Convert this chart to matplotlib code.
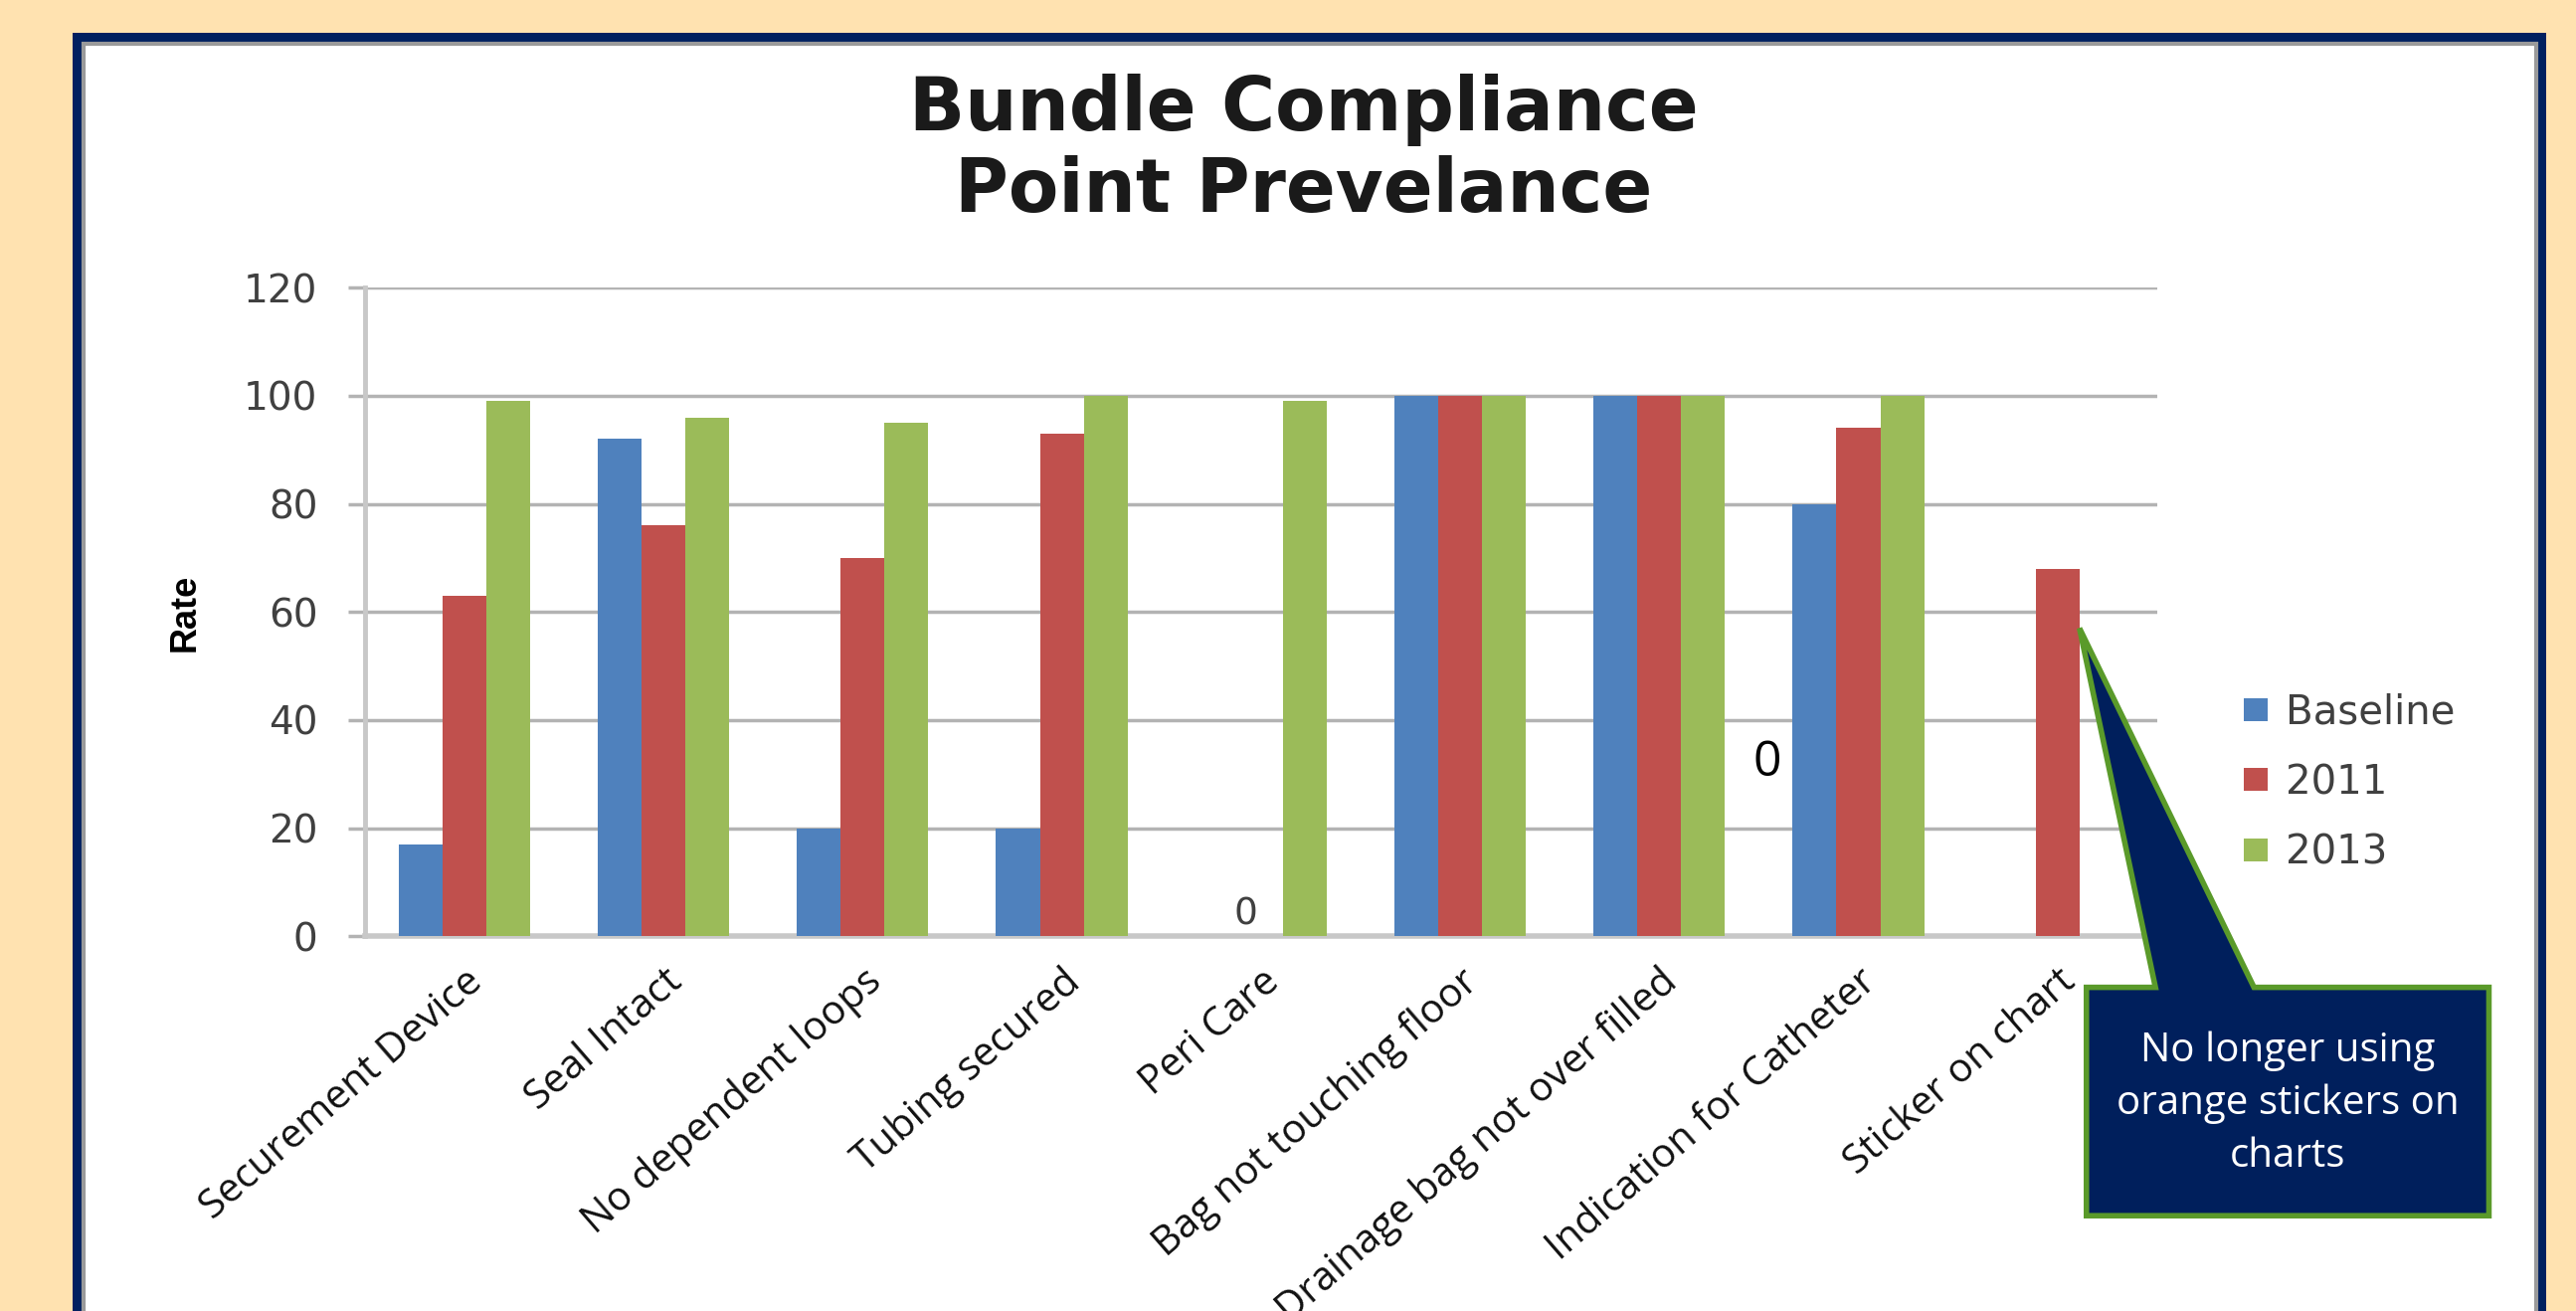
"""Bundle compliance point prevalence bar chart with callout."""

import numpy as np
import matplotlib
matplotlib.use('Agg')
import matplotlib.pyplot as plt
from matplotlib.patches import Rectangle, Polygon

# ---- data ----
categories = ['Securement Device', 'Seal Intact', 'No dependent loops', 'Tubing secured',
              'Peri Care', 'Bag not touching floor', 'Drainage bag not over filled',
              'Indication for Catheter', 'Sticker on chart']
series_names = ['Baseline', '2011', '2013']
baseline = [17, 92, 20, 20, np.nan, 100, 100, 80, np.nan]
y2011 = [63, 76, 70, 93, np.nan, 100, 100, 94, 68]
y2013 = [99, 96, 95, 100, 99, 100, 100, 100, np.nan]
yticks = [0, 20, 40, 60, 80, 100, 120]
callout_text = 'No longer using\norange stickers on\ncharts'

colors = ['#4F81BD', '#C0504D', '#9BBB59']
beige = '#FFE2B0'
navy = '#002060'

fig = plt.figure(figsize=(25.9, 13.18), dpi=100, facecolor=beige)

# slide frame + white chart panel
fig.add_artist(Rectangle((0.028, -0.05), 0.9605, 1.025, transform=fig.transFigure,
                         facecolor=navy, edgecolor='none', zorder=-10))
fig.add_artist(Rectangle((0.0325, -0.05), 0.952, 1.0165, transform=fig.transFigure,
                         facecolor='white', edgecolor='#9a9a9a', linewidth=3, zorder=-9))

ax = fig.add_axes([0.1416, 0.2857, 0.8374 - 0.1416, 0.7807 - 0.2857])
ax.set_facecolor('none')

x = np.arange(len(categories))
w = 0.22
for i, (vals, name) in enumerate(zip([baseline, y2011, y2013], series_names)):
    ax.bar(x + (i - 1) * w, vals, width=w, color=colors[i], label=name,
           edgecolor='none', zorder=3)

ax.set_xlim(-0.5, len(categories) - 0.5)
ax.set_ylim(0, 120)
ax.set_yticks(yticks)
ax.yaxis.grid(True, color='#b3b3b3', linewidth=2.5, zorder=0)
ax.set_axisbelow(True)
ax.tick_params(axis='y', length=12, width=2.5, color='#b3b3b3', pad=22,
               labelsize=28, labelcolor='#404040')
ax.tick_params(axis='x', length=0, pad=18)
for s in ['top', 'right']:
    ax.spines[s].set_visible(False)
ax.spines['left'].set_color('#c8c8c8')
ax.spines['left'].set_linewidth(3.5)
ax.spines['bottom'].set_color('#c8c8c8')
ax.spines['bottom'].set_linewidth(4)

ax.set_xticks(x)
ax.set_xticklabels(categories, rotation=41, ha='right', va='top', rotation_mode='anchor',
                   fontsize=29, family='Open Sans', color='#111111')

fig.text(0.072, 0.533, 'Rate', rotation=90, ha='center', va='center', fontsize=26,
         fontweight='bold', family='Liberation Sans')

fig.text(0.506, 0.885, 'Bundle Compliance\nPoint Prevelance', ha='center', va='center',
         fontsize=53, fontweight='bold', linespacing=1.16, color='#1a1a1a')

# stray "0" labels from the original slide
ax.text(4 - 0.075, 0.8, '0', ha='center', va='bottom', fontsize=27, color='#404040')
ax.text(6.54, 32, '0', ha='center', va='center', fontsize=36, family='Open Sans',
        color='black')

leg = ax.legend(loc='upper left', bbox_to_anchor=(0.871, 1 - 422 / 798),
                bbox_transform=fig.transFigure, frameon=False, fontsize=29,
                handlelength=0.6, handleheight=0.5, handletextpad=0.45,
                labelspacing=0.75, borderpad=0, borderaxespad=0)
for t in leg.get_texts():
    t.set_color('#404040')

# callout pointing at the sticker bar
tip = ax.transData.transform((8 + 0.5 * w, 57))
tip = fig.transFigure.inverted().transform(tip)
bx0, bx1 = 1270 / 1568, 1515 / 1568
by0, by1 = 1 - 740 / 798, 1 - 601 / 798
pts = [(bx0, by0), (bx0, by1), (1312 / 1568, by1), tuple(tip), (1372 / 1568, by1),
       (bx1, by1), (bx1, by0)]
fig.add_artist(Polygon(pts, closed=True, transform=fig.transFigure, facecolor='#001F5C',
                       edgecolor='#5A9A2A', linewidth=4, joinstyle='miter', zorder=10))
fig.text((bx0 + bx1) / 2, 1 - 672 / 798, callout_text, ha='center', va='center',
         fontsize=29, family='Open Sans', color='white', linespacing=1.4, zorder=11)

fig.savefig('out.png', dpi=100, facecolor=beige)
